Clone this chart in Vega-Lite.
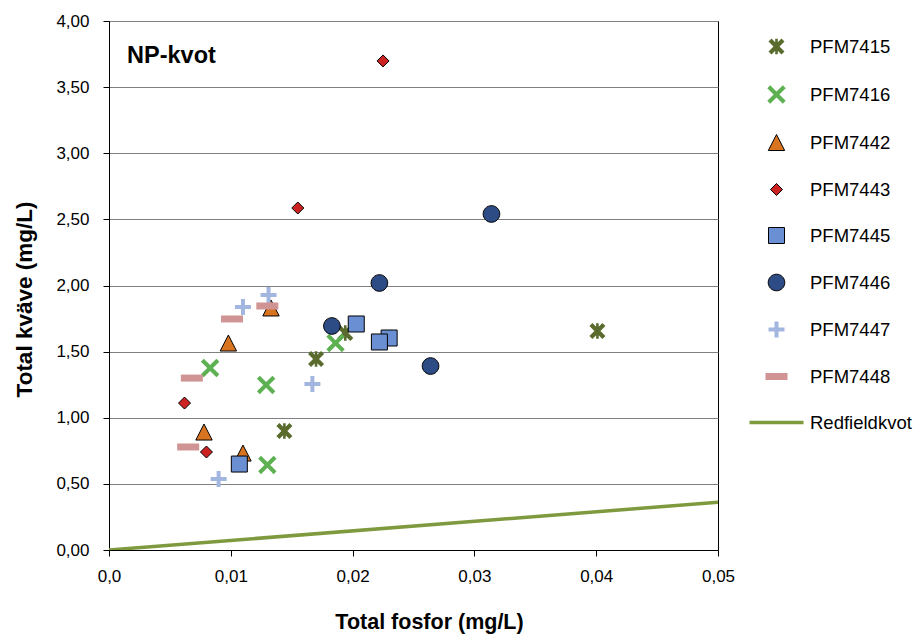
{
  "$schema": "https://vega.github.io/schema/vega-lite/v6.json",
  "width": 609,
  "height": 529,
  "autosize": {"type": "none"},
  "padding": {"left": 109, "top": 21, "right": 200, "bottom": 85},
  "background": "white",
  "config": {
    "font": "Liberation Sans",
    "view": {"stroke": "#000000", "strokeWidth": 1},
    "axis": {
      "domainColor": "#000000",
      "tickColor": "#000000",
      "labelColor": "#000000",
      "titleColor": "#000000",
      "labelFont": "Liberation Sans",
      "titleFont": "Liberation Sans",
      "labelFontSize": 17,
      "titleFontSize": 21.5,
      "titleFontWeight": "bold",
      "tickSize": 6,
      "domainWidth": 1,
      "tickWidth": 1
    },
    "legend": {
      "labelFont": "Liberation Sans",
      "labelFontSize": 18.5,
      "labelColor": "#000000",
      "symbolSize": 400,
      "rowPadding": 26,
      "labelOffset": 23,
      "padding": 0,
      "symbolStrokeWidth": 1,
      "symbolOpacity": 1,
      "symbolLimit": 0
    }
  },
  "datasets": {
    "pts": [
      {"serie": "PFM7415", "p": 0.0401, "n": 1.656},
      {"serie": "PFM7415", "p": 0.0170, "n": 1.444},
      {"serie": "PFM7415", "p": 0.0144, "n": 0.900},
      {"serie": "PFM7415", "p": 0.0194, "n": 1.641},
      {"serie": "PFM7416", "p": 0.0083, "n": 1.376},
      {"serie": "PFM7416", "p": 0.0129, "n": 1.248},
      {"serie": "PFM7416", "p": 0.0130, "n": 0.643},
      {"serie": "PFM7416", "p": 0.0186, "n": 1.565},
      {"serie": "PFM7442", "p": 0.0133, "n": 1.830},
      {"serie": "PFM7442", "p": 0.0098, "n": 1.565},
      {"serie": "PFM7442", "p": 0.0078, "n": 0.892},
      {"serie": "PFM7442", "p": 0.0110, "n": 0.733},
      {"serie": "PFM7443", "p": 0.0225, "n": 3.698},
      {"serie": "PFM7443", "p": 0.0155, "n": 2.586},
      {"serie": "PFM7443", "p": 0.0062, "n": 1.111},
      {"serie": "PFM7443", "p": 0.0080, "n": 0.741},
      {"serie": "PFM7445", "p": 0.0107, "n": 0.650},
      {"serie": "PFM7445", "p": 0.0203, "n": 1.709},
      {"serie": "PFM7445", "p": 0.0230, "n": 1.603},
      {"serie": "PFM7445", "p": 0.0222, "n": 1.573},
      {"serie": "PFM7446", "p": 0.0314, "n": 2.541},
      {"serie": "PFM7446", "p": 0.0222, "n": 2.019},
      {"serie": "PFM7446", "p": 0.0183, "n": 1.694},
      {"serie": "PFM7446", "p": 0.0264, "n": 1.391},
      {"serie": "PFM7447", "p": 0.0131, "n": 1.928},
      {"serie": "PFM7447", "p": 0.0110, "n": 1.837},
      {"serie": "PFM7447", "p": 0.0167, "n": 1.255},
      {"serie": "PFM7447", "p": 0.0090, "n": 0.537},
      {"serie": "PFM7448", "p": 0.0130, "n": 1.845},
      {"serie": "PFM7448", "p": 0.0101, "n": 1.747},
      {"serie": "PFM7448", "p": 0.0068, "n": 1.300},
      {"serie": "PFM7448", "p": 0.0065, "n": 0.779}
    ],
    "redfield": [
      {"p": 0.0, "n": 0.0},
      {"p": 0.05, "n": 0.3613}
    ]
  },
  "layer": [
    {
      "data": {"name": "redfield"},
      "mark": {"type": "line", "color": "#7f9a3e", "strokeWidth": 3.5, "clip": true},
      "encoding": {
        "x": {
          "field": "p", "type": "quantitative",
          "scale": {"domain": [0, 0.05], "nice": false, "zero": true},
          "axis": {
            "title": "Total fosfor  (mg/L)",
            "titleX": 320,
            "values": [0, 0.01, 0.02, 0.03, 0.04, 0.05],
            "grid": false,
            "labelExpr": "datum.value == 0 ? '0,0' : replace(format(datum.value, '.2f'), '.', ',')",
            "labelPadding": 12,
            "titlePadding": 27,
            "labelFlush": false
          }
        },
        "y": {
          "field": "n", "type": "quantitative",
          "scale": {"domain": [0, 4], "nice": false},
          "axis": {
            "title": "Total kväve  (mg/L)",
            "titleFontSize": 22.5,
            "titleY": 278,
            "values": [0, 0.5, 1, 1.5, 2, 2.5, 3, 3.5, 4],
            "grid": true,
            "gridColor": "#808080",
            "gridWidth": 1,
            "labelExpr": "replace(format(datum.value, '.2f'), '.', ',')",
            "labelPadding": 14,
            "titlePadding": 19,
            "labelFlush": false
          }
        }
      }
    },
    {
      "data": {"name": "pts"},
      "mark": {"type": "point", "filled": true, "size": 400, "opacity": 1, "strokeWidth": 1},
      "encoding": {
        "x": {"field": "p", "type": "quantitative"},
        "y": {"field": "n", "type": "quantitative"},
        "fill": {
          "field": "serie", "type": "nominal",
          "scale": {
            "domain": ["PFM7415", "PFM7416", "PFM7442", "PFM7443", "PFM7445", "PFM7446", "PFM7447", "PFM7448", "Redfieldkvot"],
            "range": ["#5a6b2e", "#5db152", "#d8731f", "#cc2222", "#6a8fd2", "#2d4b85", "#a3b6df", "#d09494", "#7f9a3e"]
          },
          "legend": {"title": null, "orient": "none", "legendX": 657, "legendY": 15}
        },
        "stroke": {
          "field": "serie", "type": "nominal",
          "scale": {
            "domain": ["PFM7415", "PFM7416", "PFM7442", "PFM7443", "PFM7445", "PFM7446", "PFM7447", "PFM7448", "Redfieldkvot"],
            "range": ["transparent", "transparent", "#000000", "#000000", "#000000", "#000000", "transparent", "transparent", "transparent"]
          },
          "legend": {"title": null, "orient": "none", "legendX": 657, "legendY": 15}
        },
        "shape": {
          "field": "serie", "type": "nominal",
          "scale": {
            "domain": ["PFM7415", "PFM7416", "PFM7442", "PFM7443", "PFM7445", "PFM7446", "PFM7447", "PFM7448", "Redfieldkvot"],
            "range": [
              "M-0.8,-0.5L-0.5,-0.8L0,-0.3L0.5,-0.8L0.8,-0.5L0.3,0L0.8,0.5L0.5,0.8L0,0.3L-0.5,0.8L-0.8,0.5L-0.3,0ZM-0.13,-0.78H0.13V0.78H-0.13Z",
              "M-0.92,-0.63L-0.63,-0.92L0,-0.29L0.63,-0.92L0.92,-0.63L0.29,0L0.92,0.63L0.63,0.92L0,0.29L-0.63,0.92L-0.92,0.63L-0.29,0Z",
              "M0,-0.8L0.82,0.8L-0.82,0.8Z",
              "M0,-0.6L0.6,0L0,0.6L-0.6,0Z",
              "M-0.8,-0.8H0.8V0.8H-0.8Z",
              "M-0.83,0A0.83,0.83,0,1,0,0.83,0A0.83,0.83,0,1,0,-0.83,0Z",
              "M-0.2,-0.8H0.2V-0.2H0.8V0.2H0.2V0.8H-0.2V0.2H-0.8V-0.2H-0.2Z",
              "M-1.1,-0.35H1.1V0.35H-1.1Z",
              "M-2.7,-0.17H2.7V0.17H-2.7Z"
            ]
          },
          "legend": {"title": null, "orient": "none", "legendX": 657, "legendY": 15}
        }
      }
    },
    {
      "data": {"values": [{"label": "NP-kvot"}]},
      "mark": {"type": "text", "align": "left", "baseline": "alphabetic", "font": "Liberation Sans", "fontWeight": "bold", "fontSize": 23.5, "color": "#000000"},
      "encoding": {
        "text": {"field": "label", "type": "nominal"},
        "x": {"datum": 0.00148, "type": "quantitative"},
        "y": {"datum": 3.682, "type": "quantitative"}
      }
    }
  ]
}
